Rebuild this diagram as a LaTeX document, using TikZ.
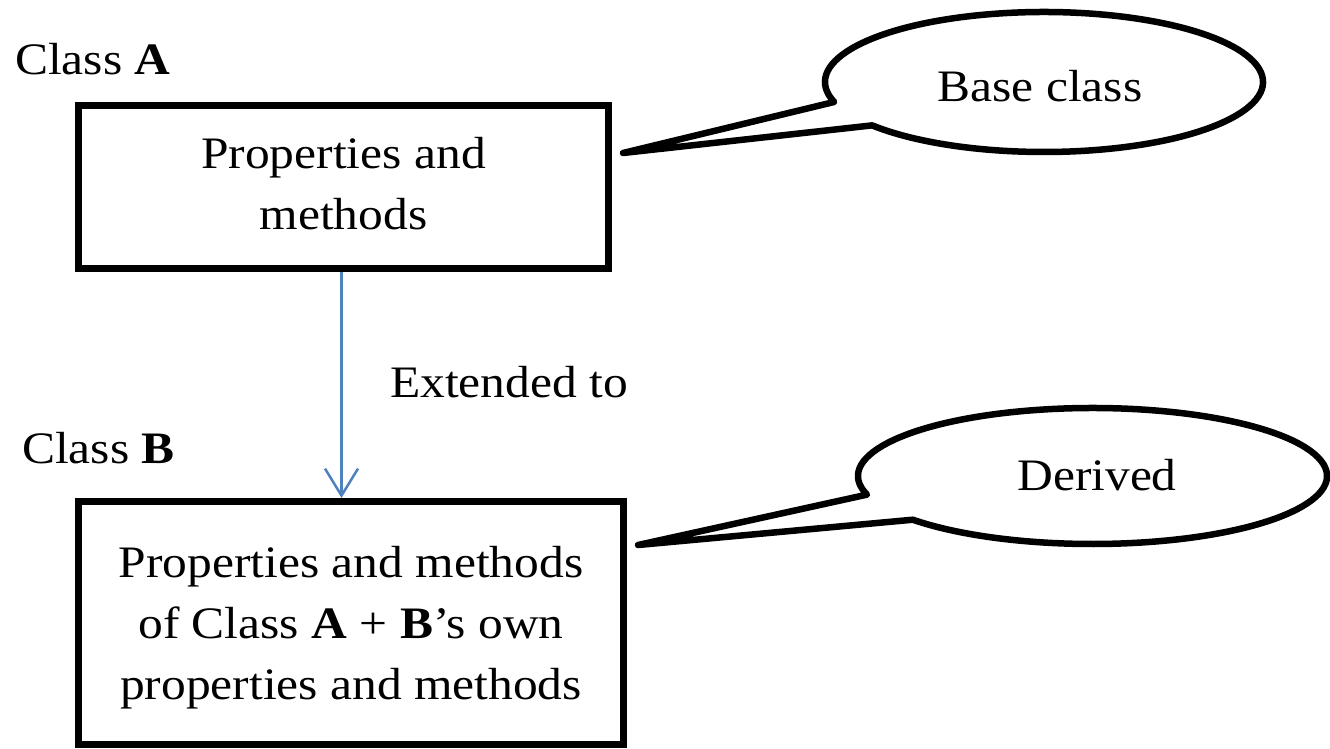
\documentclass[tikz,border=0pt]{standalone}
\usepackage{fontspec}
\setmainfont{Liberation Serif}[FakeStretch=1.1]
\usetikzlibrary{arrows.meta}
\definecolor{arrowblue}{HTML}{4F81BD}
\begin{document}
\begin{tikzpicture}[x=1pt,y=1pt,
  txt/.style={font=\fontsize{45}{61}\selectfont, inner sep=0pt},
  classbox/.style={draw, line width=7pt, inner sep=0pt, align=center, font=\fontsize{45}{61}\selectfont},
  bubble/.style={draw, line width=6.5pt, line join=round},
  extarrow/.style={draw=arrowblue, line width=2.5pt, -{Straight Barb[length=27pt,width=33pt,line width=2.5pt]}}
]
\useasboundingbox (0,0) rectangle (1330,748);
\node[classbox, minimum width=530pt, minimum height=163pt] (A) at (343.5,561) {Properties and\\methods\rule[-8pt]{0pt}{0pt}};
\node[classbox, minimum width=545pt, minimum height=243pt] (B) at (351,125) {\rule{0pt}{41pt}Properties and methods\\of Class \textbf{A} + \textbf{B}'s own\\properties and methods};
\node[txt, anchor=base west] (la) at (15,673) {Class \textbf{A}};
\node[txt, anchor=base west] (lb) at (22,285) {Class \textbf{B}};
\node[txt, anchor=base west] (ext) at (390,351) {Extended to};
\draw[extarrow] ([xshift=-2pt]A.south) -- ([xshift=-2pt]A.south |- B.north);
% callout 1
\coordinate (c1) at (1044,666);
\coordinate (t1) at (623,595);
\draw[bubble] (t1) -- ([shift={(196.6:219 and 70)}]c1) arc[start angle=196.6, end angle=-141.7, x radius=219, y radius=70] -- cycle;
\node[txt, anchor=base] (base) at (1040,646) {Base class};
% callout 2
\coordinate (c2) at (1092.5,272);
\coordinate (t2) at (638,203);
\draw[bubble] (t2) -- ([shift={(195.9:234.5 and 68)}]c2) arc[start angle=195.9, end angle=-140, x radius=234.5, y radius=68] -- cycle;
\node[txt, anchor=base] (der) at (1097,258) {Derived};
\end{tikzpicture}
\end{document}
